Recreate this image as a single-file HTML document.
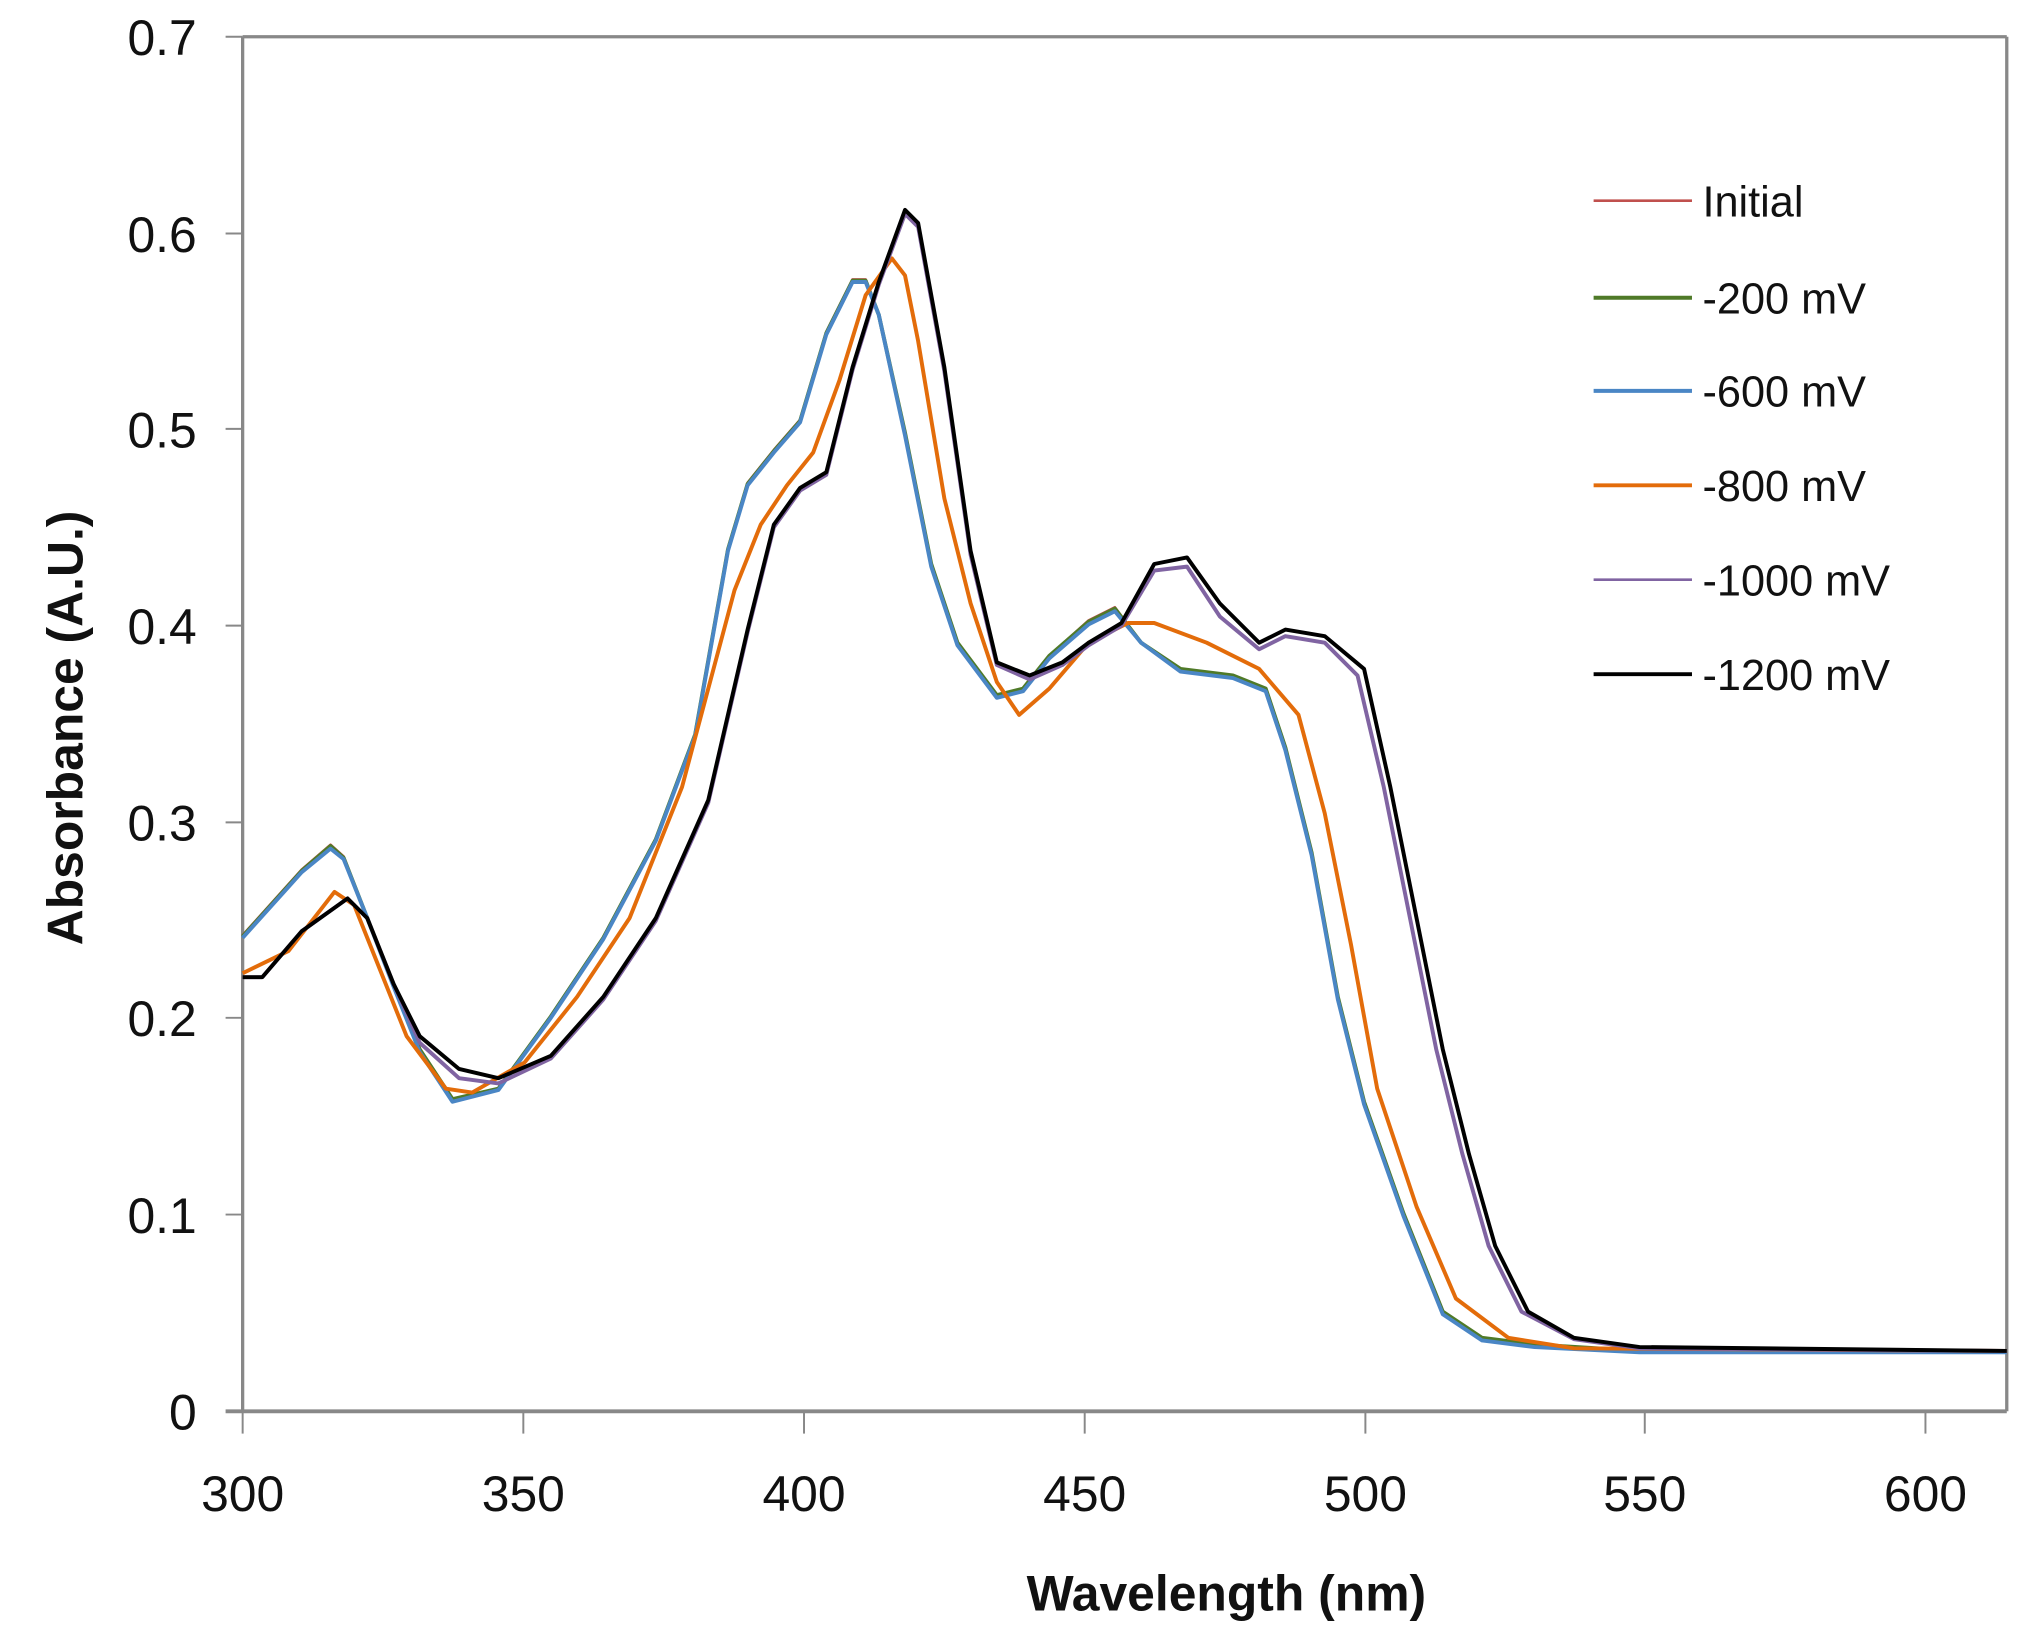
<!DOCTYPE html>
<html><head><style>html,body{margin:0;padding:0;background:#fff}svg{display:block}</style></head><body>
<svg width="2033" height="1631" viewBox="0 0 1550 1243.5" xmlns="http://www.w3.org/2000/svg" font-family="Liberation Sans, sans-serif">
<rect width="1550" height="1243.5" fill="#fff"/>
<g stroke="#888" stroke-width="2.5" fill="none">
<line x1="185" y1="28" x2="1530" y2="28"/>
<line x1="185" y1="28" x2="185" y2="1076"/>
<line x1="1530" y1="28" x2="1530" y2="1076"/>
<line x1="172" y1="1076" x2="1530" y2="1076" stroke-width="3"/>
<g stroke-width="1.5">
<line x1="172" y1="28" x2="185" y2="28"/><line x1="172" y1="178" x2="185" y2="178"/><line x1="172" y1="327" x2="185" y2="327"/><line x1="172" y1="477" x2="185" y2="477"/><line x1="172" y1="627" x2="185" y2="627"/><line x1="172" y1="776" x2="185" y2="776"/><line x1="172" y1="926" x2="185" y2="926"/>
<line x1="185" y1="1076" x2="185" y2="1093"/><line x1="399" y1="1076" x2="399" y2="1093"/><line x1="613" y1="1076" x2="613" y2="1093"/><line x1="827" y1="1076" x2="827" y2="1093"/><line x1="1041" y1="1076" x2="1041" y2="1093"/><line x1="1254" y1="1076" x2="1254" y2="1093"/><line x1="1468" y1="1076" x2="1468" y2="1093"/>
</g></g>
<g font-size="38" fill="#111" text-anchor="end">
<text x="150" y="42">0.7</text><text x="150" y="192">0.6</text><text x="150" y="341">0.5</text><text x="150" y="491">0.4</text><text x="150" y="641">0.3</text><text x="150" y="790">0.2</text><text x="150" y="940">0.1</text><text x="150" y="1090">0</text>
</g>
<g font-size="38" fill="#111" text-anchor="middle">
<text x="185" y="1152">300</text><text x="399" y="1152">350</text><text x="613" y="1152">400</text><text x="827" y="1152">450</text><text x="1041" y="1152">500</text><text x="1254" y="1152">550</text><text x="1468" y="1152">600</text>
</g>
<text x="935" y="1228" font-size="38" font-weight="bold" text-anchor="middle" fill="#111">Wavelength  (nm)</text>
<text transform="translate(63,555) rotate(-90)" font-size="38" font-weight="bold" text-anchor="middle" fill="#111">Absorbance  (A.U.)</text>
<g fill="none" stroke-width="3" stroke-linejoin="round">
<polyline stroke="#c0504d" stroke-width="2" points="185,713 230,663 252,644 262,653 280,700 300,750 320,800 345,838 380,830 420,775 460,715 500,640 530,560 555,418 570,368 590,343 610,320 630,253 650,213 660,213 670,240 690,330 710,430 730,490 760,530 780,525 800,500 830,473 850,463 870,490 900,510 940,515 965,525 980,570 1000,650 1020,760 1040,840 1070,925 1100,1000 1130,1020 1170,1025 1250,1030 1530,1030"/>
<polyline stroke="#4f7a28" points="185,714 230,664 252,645 262,654 280,700 300,750 320,800 345,838 380,830 420,775 460,715 500,640 530,560 555,419 570,369 590,344 610,321 630,254 650,214 660,214 670,240 690,330 710,430 730,490 760,530 780,525 800,500 830,474 850,464 870,490 900,510 940,515 965,525 980,570 1000,650 1020,760 1040,840 1070,925 1100,1000 1130,1020 1170,1025 1250,1030 1530,1030"/>
<polyline stroke="#4a86c5" points="185,715 230,665 252,647 262,655 280,700 300,752 320,802 345,840 380,831 420,776 460,716 500,641 530,561 555,420 570,370 590,345 610,322 630,255 650,215 660,215 670,240 690,332 710,432 730,492 760,532 780,527 800,502 830,476 850,466 870,490 900,512 940,517 965,527 980,572 1000,652 1020,762 1040,842 1070,927 1100,1002 1130,1022 1170,1027 1250,1031 1530,1031"/>
<polyline stroke="#e36c0a" points="185,742 220,725 255,680 270,690 290,740 310,790 340,830 360,833 400,810 440,760 480,700 520,600 560,450 580,400 600,370 620,345 640,290 660,225 680,197 690,210 700,260 720,380 740,460 760,520 777,545 800,525 830,490 860,475 880,475 920,490 960,510 990,545 1010,620 1030,720 1050,830 1080,920 1110,990 1150,1020 1200,1028 1530,1030"/>
<polyline stroke="#8064a2" points="185,745 200,745 230,710 265,685 280,700 300,750 320,795 350,822 380,826 420,807 460,762 500,702 540,612 570,482 590,402 610,374 630,362 650,282 670,217 690,163 700,173 720,283 740,423 760,507 785,518 810,507 830,492 855,477 880,435 905,432 930,470 960,495 980,485 1010,490 1035,515 1055,600 1075,700 1095,800 1115,880 1135,950 1160,1000 1200,1021 1250,1028 1530,1030"/>
<polyline stroke="#000" points="185,745 200,745 230,710 265,685 280,700 300,750 320,790 350,815 380,822 420,805 460,760 500,700 540,610 570,480 590,400 610,372 630,360 650,280 670,215 690,160 700,170 720,280 740,420 760,505 785,515 810,505 830,490 855,475 880,430 905,425 930,460 960,490 980,480 1010,485 1040,510 1060,600 1080,700 1100,800 1120,880 1140,950 1165,1000 1200,1020 1250,1027 1530,1030"/>
</g>
<g stroke-width="3">
<line x1="1215" y1="153" x2="1290" y2="153" stroke="#c0504d" stroke-width="2"/>
<line x1="1215" y1="227" x2="1290" y2="227" stroke="#4f7a28"/>
<line x1="1215" y1="298" x2="1290" y2="298" stroke="#4a86c5"/>
<line x1="1215" y1="370" x2="1290" y2="370" stroke="#e36c0a"/>
<line x1="1215" y1="442" x2="1290" y2="442" stroke="#8064a2" stroke-width="2"/>
<line x1="1215" y1="514" x2="1290" y2="514" stroke="#000"/>
</g>
<g font-size="33" fill="#111">
<text x="1298" y="165">Initial</text><text x="1298" y="239">-200 mV</text><text x="1298" y="310">-600 mV</text><text x="1298" y="382">-800 mV</text><text x="1298" y="454">-1000 mV</text><text x="1298" y="526">-1200 mV</text>
</g>
</svg>
</body></html>
